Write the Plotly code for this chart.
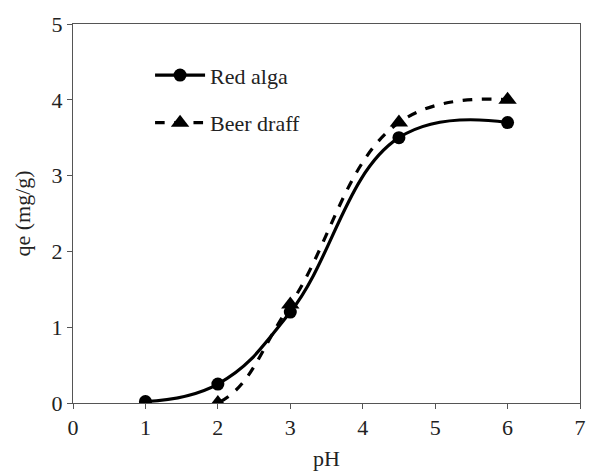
import plotly.graph_objects as go

ph = [1, 2, 3, 4.5, 6]
red_alga = [0.02, 0.25, 1.2, 3.5, 3.7]
beer_draff = [0.0, 0.0, 1.3, 3.7, 4.0]

x_ticks = [0, 1, 2, 3, 4, 5, 6, 7]
y_ticks = [0, 1, 2, 3, 4, 5]

font_family = "Liberation Serif"
fs = 22

fig = go.Figure()
fig.add_trace(go.Scatter(
    x=ph, y=red_alga, name="Red alga", mode="lines+markers",
    line=dict(color="black", width=3.2, shape="spline", smoothing=1.2),
    marker=dict(symbol="circle", size=13, color="black"),
    legendgroup="a",
))
fig.add_trace(go.Scatter(
    x=ph, y=beer_draff, name="Beer draff", mode="lines+markers",
    line=dict(color="black", width=3.2, dash="dash", shape="spline", smoothing=1.2),
    marker=dict(symbol="triangle-up", size=16, color="black"),
    legendgroup="b",
))

axis_common = dict(
    showline=True, linecolor="#555555", linewidth=1, mirror=True,
    ticks="outside", ticklen=5, tickcolor="#555555",
    showgrid=False, zeroline=False, automargin=False,
    tickfont=dict(family=font_family, size=fs, color="#222222"),
)

fig.update_layout(
    width=589, height=471,
    margin=dict(l=73, r=9, t=24, b=68),
    paper_bgcolor="white", plot_bgcolor="white",
    font=dict(family=font_family, size=fs, color="#222222"),
    showlegend=True,
    legend=dict(
        x=0.152, y=0.92, xanchor="left", yanchor="top",
        bgcolor="rgba(0,0,0,0)", tracegroupgap=16,
        traceorder="grouped", itemwidth=50,
        font=dict(family=font_family, size=fs, color="#222222"),
    ),
    xaxis=dict(range=[0, 7], tickvals=x_ticks,
               title=dict(text="pH", standoff=13,
                          font=dict(family=font_family, size=fs)),
               **axis_common),
    yaxis=dict(range=[0, 5], tickvals=y_ticks,
               title=dict(text="qe (mg/g)", standoff=14,
                          font=dict(family=font_family, size=fs)),
               **axis_common),
)

fig.write_html("out.html")
